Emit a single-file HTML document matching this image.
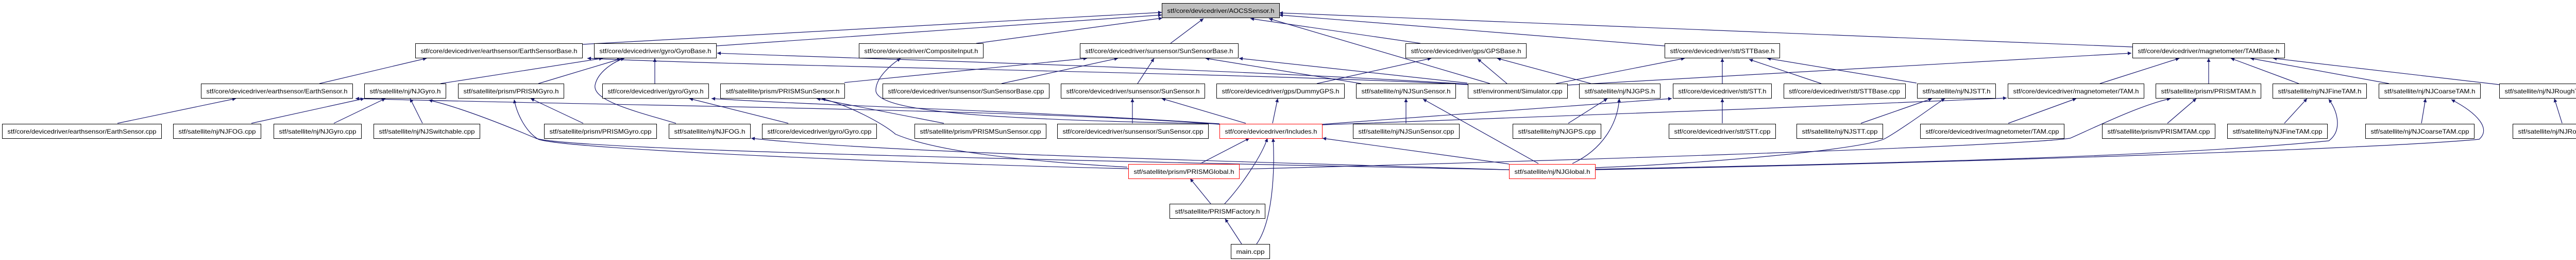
<!DOCTYPE html>
<html><head><meta charset="utf-8"><style>
html,body{margin:0;padding:0;background:#fff;}
svg{display:block;}
text{font-family:"Liberation Sans",sans-serif;font-size:12px;fill:#000;}
</style></head><body>
<svg width="5088" height="504" viewBox="0 0 5088 504" xmlns="http://www.w3.org/2000/svg">
<defs>
<marker id="a" viewBox="0 0 10 10" refX="10" refY="5" markerWidth="9" markerHeight="7" markerUnits="userSpaceOnUse" orient="auto">
<path d="M0,0 L10,5 L0,10 z" fill="#191970"/>
</marker>
</defs>
<g fill="none" stroke="#191970" stroke-width="1.2" marker-end="url(#a)">
<path d="M1130,86 L2255,24"/>
<path d="M1390,89 L2255,29"/>
<path d="M1895,84 L2256,35"/>
<path d="M2272,84 L2336,36"/>
<path d="M2757,84 L2427,36"/>
<path d="M2892,162 L2463,36"/>
<path d="M3231,89 L2483,29"/>
<path d="M4139,91 L2483,25"/>
<path d="M620,162 L828,113"/>
<path d="M2849,164 C2400,140 1500,130 1140,113"/>
<path d="M2849,163 C2300,130 1700,115 1392,103"/>
<path d="M855,162 L1170,113"/>
<path d="M1045,162 L1205,114"/>
<path d="M1312,239 C1230,215 1150,195 1155,165 C1160,140 1190,120 1212,113"/>
<path d="M1271,162 L1271,113"/>
<path d="M228,239 L458,191"/>
<path d="M2367,241 C2000,212 1200,205 690,191"/>
<path d="M488,239 L707,191"/>
<path d="M648,239 L748,191"/>
<path d="M820,239 L796,191"/>
<path d="M2929,329 C2000,310 1100,290 1040,268 C950,230 880,205 832,194"/>
<path d="M1132,239 L1030,191"/>
<path d="M2190,327 C1800,318 1100,290 1045,270 C1020,255 1003,220 998,193"/>
<path d="M1530,239 L1338,191"/>
<path d="M2367,240 C2000,215 1600,205 1381,191"/>
<path d="M1832,239 L1585,191"/>
<path d="M2188,324 C1950,310 1808,290 1738,260 C1715,240 1650,205 1595,191"/>
<path d="M1639,160 L2110,113"/>
<path d="M1944,162 L2170,113"/>
<path d="M2208,162 L2240,113"/>
<path d="M2642,162 L2340,113"/>
<path d="M2848,161 L2405,113"/>
<path d="M2367,240 C1900,232 1700,215 1700,175 C1700,150 1730,125 1748,113"/>
<path d="M2198,239 L2198,191"/>
<path d="M2418,239 L2255,191"/>
<path d="M2470,239 L2480,191"/>
<path d="M2556,162 L2778,113"/>
<path d="M2925,162 L2868,114"/>
<path d="M3088,162 L2906,113"/>
<path d="M2729,239 L2729,191"/>
<path d="M2986,317 L2762,192"/>
<path d="M3044,239 L3120,191"/>
<path d="M3052,317 C3110,290 3140,240 3143,191"/>
<path d="M3020,162 L3270,113"/>
<path d="M3343,162 L3343,113"/>
<path d="M3535,162 L3395,115"/>
<path d="M3720,161 L3430,113"/>
<path d="M2566,241 L3245,191"/>
<path d="M3343,239 L3343,191"/>
<path d="M3042,165 L4137,103"/>
<path d="M4076,162 L4230,113"/>
<path d="M4287,162 L4287,113"/>
<path d="M4462,162 L4330,113"/>
<path d="M4637,162 L4368,113"/>
<path d="M4851,164 L4412,113"/>
<path d="M2566,242 L3400,211 L3895,190"/>
<path d="M3898,239 L4030,191"/>
<path d="M3612,239 L3750,191"/>
<path d="M3096,325 C3300,318 3620,290 3660,268 C3700,245 3760,200 3775,191"/>
<path d="M2405,328 C2900,315 3900,285 4018,268 C4060,250 4150,205 4213,191"/>
<path d="M4207,239 L4263,191"/>
<path d="M4434,239 L4478,191"/>
<path d="M3096,328 C3600,318 4200,305 4520,273 C4545,255 4540,220 4520,192"/>
<path d="M4700,239 L4708,191"/>
<path d="M3096,329 C3700,318 4600,290 4812,270 C4835,250 4810,220 4758,193"/>
<path d="M4973,239 L4958,191"/>
<path d="M2330,317 L2425,268"/>
<path d="M2377,395 C2410,360 2450,300 2460,268"/>
<path d="M2439,473 C2470,430 2475,330 2471,268"/>
<path d="M2929,318 L2567,268"/>
<path d="M2350,395 L2310,346"/>
<path d="M2410,473 L2378,424"/>
<path d="M2929,329 C2300,310 1700,295 1458,268"/>
</g>
<g stroke="#000" stroke-width="1" fill="#fff">
<rect x="2255.5" y="6.5" width="228" height="28" fill="#bfbfbf"/>
<rect x="806.5" y="84.5" width="324" height="28"/>
<rect x="1153.5" y="84.5" width="237" height="28"/>
<rect x="1667.5" y="84.5" width="241" height="28"/>
<rect x="2096.5" y="84.5" width="307" height="28"/>
<rect x="2728.5" y="84.5" width="234" height="28"/>
<rect x="3231.5" y="84.5" width="223" height="28"/>
<rect x="4139.5" y="84.5" width="295" height="28"/>
<rect x="390.5" y="162.5" width="294" height="28"/>
<rect x="707.5" y="162.5" width="158" height="28"/>
<rect x="889.5" y="162.5" width="205" height="28"/>
<rect x="1169.5" y="162.5" width="206" height="28"/>
<rect x="1398.5" y="162.5" width="241" height="28"/>
<rect x="1713.5" y="162.5" width="323" height="28"/>
<rect x="2059.5" y="162.5" width="279" height="28"/>
<rect x="2361.5" y="162.5" width="248" height="28"/>
<rect x="2632.5" y="162.5" width="193" height="28"/>
<rect x="2849.5" y="162.5" width="193" height="28"/>
<rect x="3065.5" y="162.5" width="157" height="28"/>
<rect x="3247.5" y="162.5" width="191" height="28"/>
<rect x="3462.5" y="162.5" width="236" height="28"/>
<rect x="3721.5" y="162.5" width="152" height="28"/>
<rect x="3897.5" y="162.5" width="264" height="28"/>
<rect x="4184.5" y="162.5" width="204" height="28"/>
<rect x="4411.5" y="162.5" width="182" height="28"/>
<rect x="4617.5" y="162.5" width="197" height="28"/>
<rect x="4851.5" y="162.5" width="194" height="28"/>
<rect x="4.5" y="240.5" width="309" height="28"/>
<rect x="336.5" y="240.5" width="170" height="28"/>
<rect x="531.5" y="240.5" width="170" height="28"/>
<rect x="725.5" y="240.5" width="206" height="28"/>
<rect x="1056.5" y="240.5" width="218" height="28"/>
<rect x="1298.5" y="240.5" width="158" height="28"/>
<rect x="1479.5" y="240.5" width="222" height="28"/>
<rect x="1775.5" y="240.5" width="255" height="28"/>
<rect x="2052.5" y="240.5" width="293" height="28"/>
<rect x="2367.5" y="240.5" width="199" height="28" stroke="#ff0000"/>
<rect x="2626.5" y="240.5" width="206" height="28"/>
<rect x="2936.5" y="240.5" width="171" height="28"/>
<rect x="3239.5" y="240.5" width="207" height="28"/>
<rect x="3487.5" y="240.5" width="167" height="28"/>
<rect x="3727.5" y="240.5" width="279" height="28"/>
<rect x="4080.5" y="240.5" width="219" height="28"/>
<rect x="4323.5" y="240.5" width="194" height="28"/>
<rect x="4591.5" y="240.5" width="211" height="28"/>
<rect x="4877.5" y="240.5" width="207" height="28"/>
<rect x="2190.5" y="318.5" width="215" height="28" stroke="#ff0000"/>
<rect x="2929.5" y="318.5" width="167" height="28" stroke="#ff0000"/>
<rect x="2270.5" y="395.5" width="185" height="28"/>
<rect x="2389.5" y="473.5" width="75" height="28"/>
</g>
<g text-anchor="middle" lengthAdjust="spacingAndGlyphs">
<text x="2369.5" y="25" textLength="208" lengthAdjust="spacingAndGlyphs">stf/core/devicedriver/AOCSSensor.h</text>
<text x="968.5" y="103" textLength="304" lengthAdjust="spacingAndGlyphs">stf/core/devicedriver/earthsensor/EarthSensorBase.h</text>
<text x="1272" y="103" textLength="217" lengthAdjust="spacingAndGlyphs">stf/core/devicedriver/gyro/GyroBase.h</text>
<text x="1788" y="103" textLength="221" lengthAdjust="spacingAndGlyphs">stf/core/devicedriver/CompositeInput.h</text>
<text x="2250" y="103" textLength="287" lengthAdjust="spacingAndGlyphs">stf/core/devicedriver/sunsensor/SunSensorBase.h</text>
<text x="2845.5" y="103" textLength="214" lengthAdjust="spacingAndGlyphs">stf/core/devicedriver/gps/GPSBase.h</text>
<text x="3343" y="103" textLength="203" lengthAdjust="spacingAndGlyphs">stf/core/devicedriver/stt/STTBase.h</text>
<text x="4287" y="103" textLength="275" lengthAdjust="spacingAndGlyphs">stf/core/devicedriver/magnetometer/TAMBase.h</text>
<text x="537.5" y="181" textLength="274" lengthAdjust="spacingAndGlyphs">stf/core/devicedriver/earthsensor/EarthSensor.h</text>
<text x="786.5" y="181" textLength="138" lengthAdjust="spacingAndGlyphs">stf/satellite/nj/NJGyro.h</text>
<text x="992" y="181" textLength="185" lengthAdjust="spacingAndGlyphs">stf/satellite/prism/PRISMGyro.h</text>
<text x="1272.5" y="181" textLength="186" lengthAdjust="spacingAndGlyphs">stf/core/devicedriver/gyro/Gyro.h</text>
<text x="1519" y="181" textLength="221" lengthAdjust="spacingAndGlyphs">stf/satellite/prism/PRISMSunSensor.h</text>
<text x="1875" y="181" textLength="303" lengthAdjust="spacingAndGlyphs">stf/core/devicedriver/sunsensor/SunSensorBase.cpp</text>
<text x="2199" y="181" textLength="259" lengthAdjust="spacingAndGlyphs">stf/core/devicedriver/sunsensor/SunSensor.h</text>
<text x="2485.5" y="181" textLength="228" lengthAdjust="spacingAndGlyphs">stf/core/devicedriver/gps/DummyGPS.h</text>
<text x="2729" y="181" textLength="173" lengthAdjust="spacingAndGlyphs">stf/satellite/nj/NJSunSensor.h</text>
<text x="2946" y="181" textLength="173" lengthAdjust="spacingAndGlyphs">stf/environment/Simulator.cpp</text>
<text x="3144" y="181" textLength="137" lengthAdjust="spacingAndGlyphs">stf/satellite/nj/NJGPS.h</text>
<text x="3343" y="181" textLength="171" lengthAdjust="spacingAndGlyphs">stf/core/devicedriver/stt/STT.h</text>
<text x="3580" y="181" textLength="216" lengthAdjust="spacingAndGlyphs">stf/core/devicedriver/stt/STTBase.cpp</text>
<text x="3797.5" y="181" textLength="132" lengthAdjust="spacingAndGlyphs">stf/satellite/nj/NJSTT.h</text>
<text x="4029.5" y="181" textLength="244" lengthAdjust="spacingAndGlyphs">stf/core/devicedriver/magnetometer/TAM.h</text>
<text x="4286.5" y="181" textLength="184" lengthAdjust="spacingAndGlyphs">stf/satellite/prism/PRISMTAM.h</text>
<text x="4502.5" y="181" textLength="162" lengthAdjust="spacingAndGlyphs">stf/satellite/nj/NJFineTAM.h</text>
<text x="4716" y="181" textLength="177" lengthAdjust="spacingAndGlyphs">stf/satellite/nj/NJCoarseTAM.h</text>
<text x="4948.5" y="181" textLength="174" lengthAdjust="spacingAndGlyphs">stf/satellite/nj/NJRoughTAM.h</text>
<text x="159" y="259" textLength="289" lengthAdjust="spacingAndGlyphs">stf/core/devicedriver/earthsensor/EarthSensor.cpp</text>
<text x="421.5" y="259" textLength="150" lengthAdjust="spacingAndGlyphs">stf/satellite/nj/NJFOG.cpp</text>
<text x="616.5" y="259" textLength="150" lengthAdjust="spacingAndGlyphs">stf/satellite/nj/NJGyro.cpp</text>
<text x="828.5" y="259" textLength="186" lengthAdjust="spacingAndGlyphs">stf/satellite/nj/NJSwitchable.cpp</text>
<text x="1165.5" y="259" textLength="198" lengthAdjust="spacingAndGlyphs">stf/satellite/prism/PRISMGyro.cpp</text>
<text x="1377.5" y="259" textLength="138" lengthAdjust="spacingAndGlyphs">stf/satellite/nj/NJFOG.h</text>
<text x="1590.5" y="259" textLength="202" lengthAdjust="spacingAndGlyphs">stf/core/devicedriver/gyro/Gyro.cpp</text>
<text x="1903" y="259" textLength="235" lengthAdjust="spacingAndGlyphs">stf/satellite/prism/PRISMSunSensor.cpp</text>
<text x="2199" y="259" textLength="273" lengthAdjust="spacingAndGlyphs">stf/core/devicedriver/sunsensor/SunSensor.cpp</text>
<text x="2467" y="259" textLength="179" lengthAdjust="spacingAndGlyphs">stf/core/devicedriver/Includes.h</text>
<text x="2729.5" y="259" textLength="186" lengthAdjust="spacingAndGlyphs">stf/satellite/nj/NJSunSensor.cpp</text>
<text x="3022" y="259" textLength="151" lengthAdjust="spacingAndGlyphs">stf/satellite/nj/NJGPS.cpp</text>
<text x="3343" y="259" textLength="187" lengthAdjust="spacingAndGlyphs">stf/core/devicedriver/stt/STT.cpp</text>
<text x="3571" y="259" textLength="147" lengthAdjust="spacingAndGlyphs">stf/satellite/nj/NJSTT.cpp</text>
<text x="3867" y="259" textLength="259" lengthAdjust="spacingAndGlyphs">stf/core/devicedriver/magnetometer/TAM.cpp</text>
<text x="4190" y="259" textLength="199" lengthAdjust="spacingAndGlyphs">stf/satellite/prism/PRISMTAM.cpp</text>
<text x="4420.5" y="259" textLength="174" lengthAdjust="spacingAndGlyphs">stf/satellite/nj/NJFineTAM.cpp</text>
<text x="4697" y="259" textLength="191" lengthAdjust="spacingAndGlyphs">stf/satellite/nj/NJCoarseTAM.cpp</text>
<text x="4981" y="259" textLength="187" lengthAdjust="spacingAndGlyphs">stf/satellite/nj/NJRoughTAM.cpp</text>
<text x="2298" y="337" textLength="195" lengthAdjust="spacingAndGlyphs">stf/satellite/prism/PRISMGlobal.h</text>
<text x="3013" y="337" textLength="147" lengthAdjust="spacingAndGlyphs">stf/satellite/nj/NJGlobal.h</text>
<text x="2363" y="414" textLength="165" lengthAdjust="spacingAndGlyphs">stf/satellite/PRISMFactory.h</text>
<text x="2427" y="492" textLength="55" lengthAdjust="spacingAndGlyphs">main.cpp</text>
</g>
</svg>
</body></html>
